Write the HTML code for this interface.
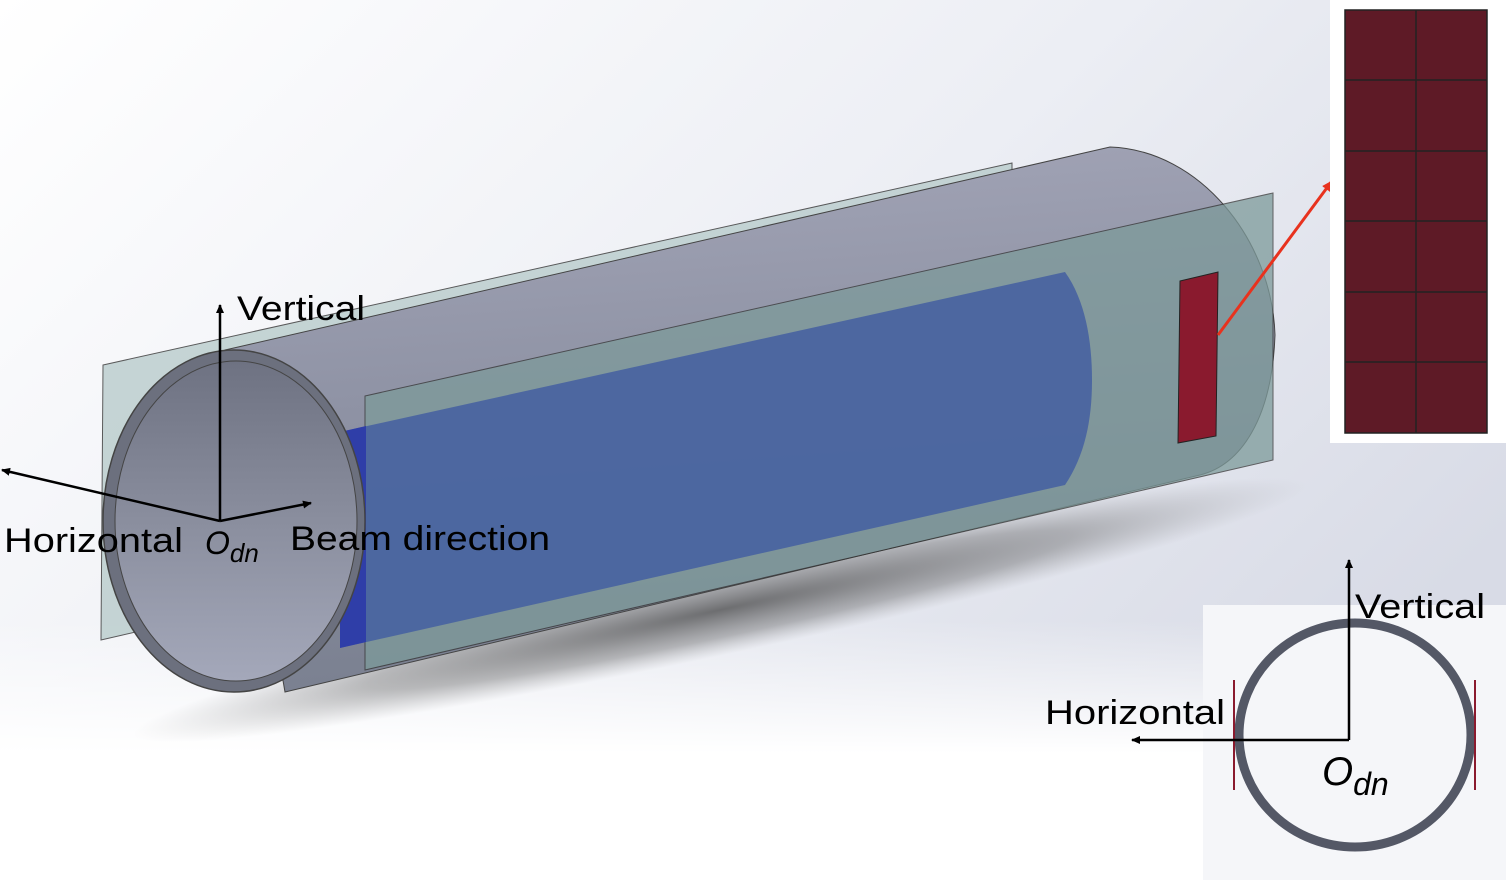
<!DOCTYPE html>
<html><head><meta charset="utf-8"><style>
html,body{margin:0;padding:0;width:1506px;height:886px;overflow:hidden;background:#fff}
svg{display:block}
text{font-family:"Liberation Sans",sans-serif}
</style></head><body>
<svg width="1506" height="886" viewBox="0 0 1506 886" xmlns="http://www.w3.org/2000/svg">
<defs>
<linearGradient id="bg" x1="0" y1="0" x2="1" y2="0.6">
<stop offset="0" stop-color="#ffffff"/><stop offset="0.55" stop-color="#eceef4"/><stop offset="1" stop-color="#d8dbe6"/>
</linearGradient>
<linearGradient id="bgb" x1="0" y1="0" x2="0" y2="1">
<stop offset="0" stop-color="#fff" stop-opacity="0"/><stop offset="0.7" stop-color="#fff" stop-opacity="0"/><stop offset="0.85" stop-color="#fff" stop-opacity="1"/>
</linearGradient>
<linearGradient id="body" x1="0" y1="0" x2="0.15" y2="1">
<stop offset="0" stop-color="#a4a6b8"/><stop offset="0.5" stop-color="#8e92a4"/><stop offset="1" stop-color="#7a8090"/>
</linearGradient>
<linearGradient id="inner" x1="0" y1="0" x2="0" y2="1">
<stop offset="0" stop-color="#6e7282"/><stop offset="0.5" stop-color="#8a8e9e"/><stop offset="1" stop-color="#a4a8ba"/>
</linearGradient>
<radialGradient id="shadow" cx="0.5" cy="0.5" r="0.5">
<stop offset="0" stop-color="#333" stop-opacity="0.8"/><stop offset="0.6" stop-color="#555" stop-opacity="0.45"/><stop offset="1" stop-color="#888" stop-opacity="0"/>
</radialGradient>
<marker id="ah" markerWidth="10" markerHeight="10" refX="8" refY="5" orient="auto" markerUnits="userSpaceOnUse"><path d="M0,1 L9,5 L0,9 Z" fill="#000"/></marker>
<marker id="ahr" markerWidth="12" markerHeight="12" refX="10" refY="6" orient="auto" markerUnits="userSpaceOnUse"><path d="M0,1 L11,6 L0,11 Z" fill="#e8321e"/></marker>
</defs>
<rect width="1506" height="886" fill="url(#bg)"/>
<rect width="1506" height="886" fill="url(#bgb)"/>
<!-- shadow -->
<ellipse cx="720" cy="610" rx="600" ry="45" transform="rotate(-12 720 610)" fill="url(#shadow)" opacity="0.85"/>
<!-- back plane -->
<polygon points="103,365 1012,163 1012,430 101,640" fill="#b9cccc" stroke="#333" stroke-width="1" opacity="0.8"/>
<!-- body -->
<path d="M225,350 L1110,147 C1200,150 1272,240 1275,335 C1272,420 1240,465 1200,475 L285,692 Z" fill="url(#body)" stroke="#444" stroke-width="1"/>
<!-- front plane -->
<polygon points="365,396 1273,193 1273,460 365,670" fill="#7d9a9a" opacity="0.75" stroke="#333" stroke-width="1"/>
<!-- blue -->
<path d="M340,432 L1065,272 C1085,300 1092,340 1092,380 C1092,420 1085,455 1065,485 L340,648 Z" fill="#4a64a0" opacity="0.95"/>
<polygon points="340,432 366,426 366,642 340,648" fill="#2f3ea8"/>
<!-- red patch -->
<polygon points="1180,281 1218,272 1216,436 1178,443" fill="#8a1a2e" stroke="#222" stroke-width="1"/>
<line x1="1218" y1="335" x2="1332" y2="181" stroke="#e8321e" stroke-width="3" marker-end="url(#ahr)"/>
<!-- end ring -->
<ellipse cx="234" cy="521" rx="131" ry="171" fill="#6c707e" stroke="#444" stroke-width="1.5"/>
<ellipse cx="236" cy="521" rx="121" ry="160" fill="url(#inner)" stroke="#444" stroke-width="1"/>
<!-- inset grid -->
<rect x="1330" y="0" width="176" height="443" fill="#fff"/>
<rect x="1345" y="10" width="142" height="423" fill="#5e1a26" stroke="#222" stroke-width="1.5"/>
<g stroke="#222" stroke-width="1.5">
<line x1="1416" y1="10" x2="1416" y2="433"/>
<line x1="1345" y1="80" x2="1487" y2="80"/><line x1="1345" y1="151" x2="1487" y2="151"/>
<line x1="1345" y1="221" x2="1487" y2="221"/><line x1="1345" y1="292" x2="1487" y2="292"/>
<line x1="1345" y1="362" x2="1487" y2="362"/>
</g>
<!-- axes left -->
<g stroke="#000" stroke-width="2.5" fill="none">
<line x1="220" y1="521" x2="220" y2="305" marker-end="url(#ah)"/>
<line x1="220" y1="521" x2="2" y2="470" marker-end="url(#ah)"/>
<line x1="220" y1="521" x2="311" y2="503" marker-end="url(#ah)"/>
</g>
<text x="237" y="320" font-size="34" textLength="128" lengthAdjust="spacingAndGlyphs">Vertical</text>
<text x="4" y="552" font-size="34" textLength="179" lengthAdjust="spacingAndGlyphs">Horizontal</text>
<text x="205" y="554" font-size="32" font-style="italic" font-family="Liberation Serif,serif">O<tspan font-size="26" dy="8">dn</tspan></text>
<text x="290" y="550" font-size="34" textLength="260" lengthAdjust="spacingAndGlyphs">Beam direction</text>
<!-- bottom right inset -->
<rect x="1203" y="605" width="303" height="275" fill="#f5f6f9"/>
<ellipse cx="1355" cy="735" rx="116" ry="112" fill="none" stroke="#545866" stroke-width="9"/>
<line x1="1234" y1="680" x2="1234" y2="790" stroke="#8a1a2e" stroke-width="2"/>
<line x1="1475" y1="680" x2="1475" y2="790" stroke="#8a1a2e" stroke-width="2"/>
<g stroke="#000" stroke-width="2.5">
<line x1="1349" y1="740" x2="1349" y2="560" marker-end="url(#ah)"/>
<line x1="1349" y1="740" x2="1132" y2="740" marker-end="url(#ah)"/>
</g>
<text x="1355" y="618" font-size="34" textLength="130" lengthAdjust="spacingAndGlyphs">Vertical</text>
<text x="1045" y="724" font-size="34" textLength="180" lengthAdjust="spacingAndGlyphs">Horizontal</text>
<text x="1322" y="785" font-size="40" font-style="italic" font-family="Liberation Serif,serif">O<tspan font-size="32" dy="10">dn</tspan></text>
</svg>
</body></html>
